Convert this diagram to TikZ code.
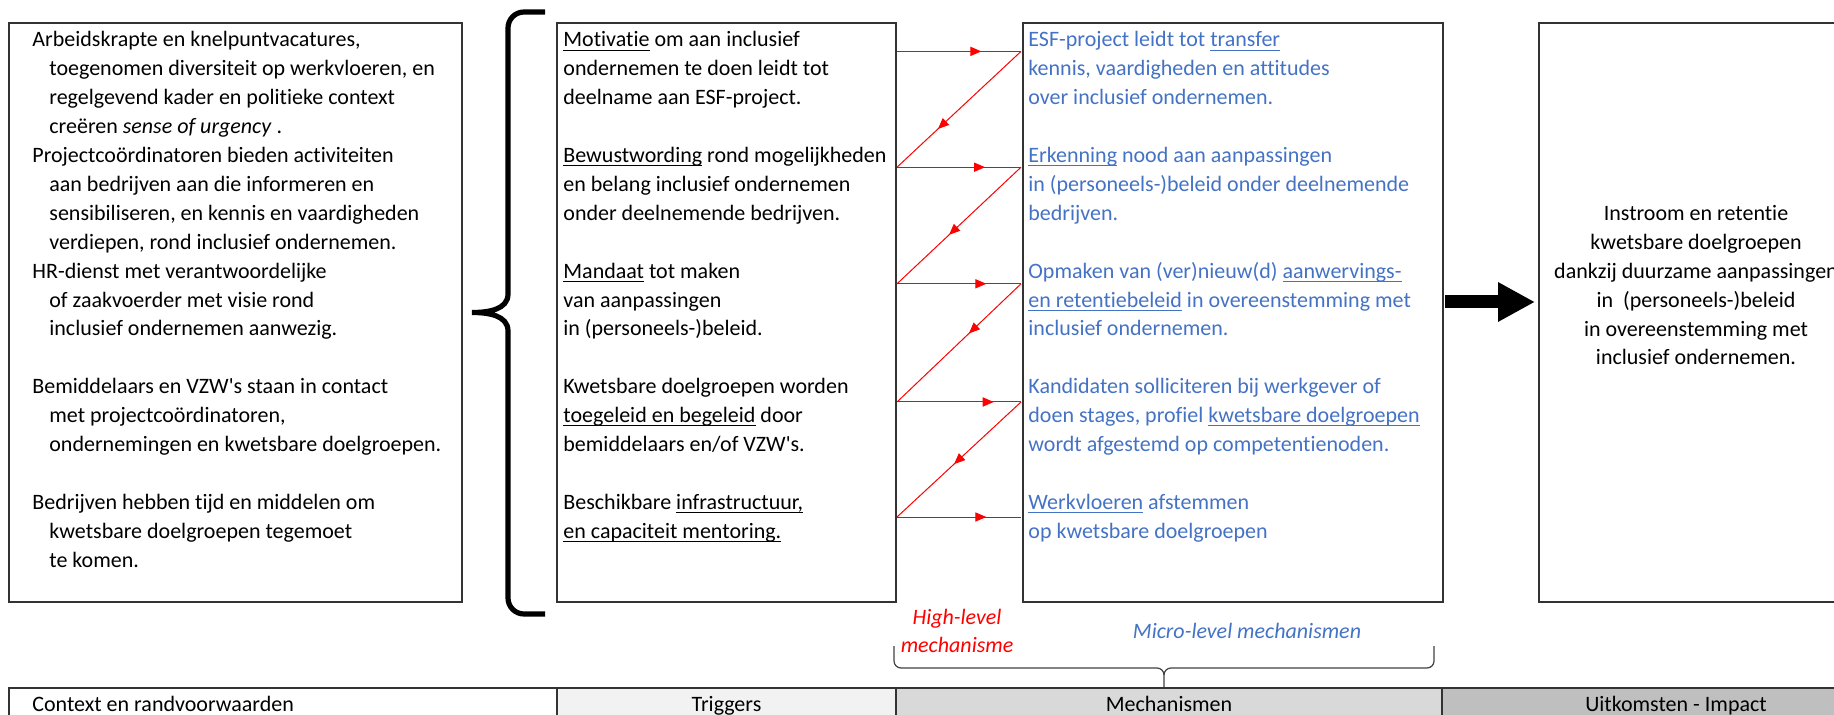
\documentclass[tikz,border=0pt]{standalone}
\usepackage{fontspec}
\setmainfont{Carlito}[Ligatures={TeX,NoCommon}]
\usetikzlibrary{arrows.meta, positioning, decorations.markings}

\definecolor{micro}{HTML}{4472C4}
\definecolor{cellA}{HTML}{F2F2F2}
\definecolor{cellB}{HTML}{D9D9D9}
\definecolor{cellC}{HTML}{BFBFBF}
\newcommand{\hind}{\hspace*{8.5pt}}
\newlength{\ulwd}
\newcommand{\ulin}[1]{\settowidth{\ulwd}{#1}\rlap{\rule[-1.8pt]{\ulwd}{0.5pt}}#1}

\begin{document}
\begin{tikzpicture}[x=0.5pt, y=-0.5pt,
    box/.style={draw=black!80, line width=0.75pt, anchor=north west, inner sep=0pt, outer sep=0pt, minimum height=289.5pt},
    txt/.style={anchor=north west, inner sep=0pt, align=left, font=\fontsize{11}{14.45}\selectfont},
    cell/.style={draw=black!80, line width=0.6pt, anchor=north west, inner sep=0pt, outer sep=0pt, minimum height=26pt},
    celltxt/.style={inner sep=0pt, anchor=base, font=\fontsize{11}{14.45}\selectfont},
    lbl/.style={inner sep=0pt, anchor=base, font=\fontsize{11}{14.45}\selectfont\itshape},
    redarrow/.style={red, line width=0.5pt, postaction={decorate},
        decoration={markings, mark=at position #1 with {\arrow{Triangle[length=5.5pt, width=4.6pt]}}}},
    bigarrow/.style={line width=6.5pt, -{Triangle[length=18.5pt, width=18.5pt]}},
    bigbrace/.style={line width=2.6pt},
    smallbrace/.style={draw=black!75, line width=0.6pt}
]
    \useasboundingbox (0,0) rectangle (1834,715);
    \clip (0,0) rectangle (1834,715);

    % de vier kaders
    \node[box, minimum width=226.5pt] (ctxbox) at (9,23) {};
    \node[box, minimum width=169.5pt] (trig) at (557,23) {};
    \node[box, minimum width=210pt] (mech) at (1023,23) {};
    \node[box, minimum width=157pt] (outc) at (1539,23) {};

    % context en randvoorwaarden
    \node[txt] (ctxtxt) at (32,26.3) {\strut Arbeidskrapte en knelpuntvacatures,\\
        \hind toegenomen diversiteit op werkvloeren, en\\
        \hind regelgevend kader en politieke context\\
        \hind creëren \textit{sense of urgency} .\\
        Projectcoördinatoren bieden activiteiten\\
        \hind aan bedrijven aan die informeren en\\
        \hind sensibiliseren, en kennis en vaardigheden\\
        \hind verdiepen, rond inclusief ondernemen.\\
        HR-dienst met verantwoordelijke\\
        \hind of zaakvoerder met visie rond\\
        \hind inclusief ondernemen aanwezig.\\[14.45pt]
        Bemiddelaars en VZW\textquotesingle s staan in contact\\
        \hind met projectcoördinatoren,\\
        \hind ondernemingen en kwetsbare doelgroepen.\\[14.45pt]
        Bedrijven hebben tijd en middelen om\\
        \hind kwetsbare doelgroepen tegemoet\\
        \hind te komen.};

    % accolade
    \draw[bigbrace] (545,12) -- (524,12) to[out=180,in=90] (508,28) -- (508,294)
        to[out=-90,in=0] (472,312.5) to[out=0,in=90] (508,331) -- (508,598)
        to[out=-90,in=180] (524,614) -- (545,614);

    % triggers
    \node[txt] (trigtxt) at (563,26.3) {\strut\ulin{Motivatie} om aan inclusief\\
        ondernemen te doen leidt tot\\
        deelname aan ESF-project.\\[14.45pt]
        \ulin{Bewustwording} rond mogelijkheden\\
        en belang inclusief ondernemen\\
        onder deelnemende bedrijven.\\[14.45pt]
        \ulin{Mandaat} tot maken\\
        van aanpassingen\\
        in (personeels-)beleid.\\[14.45pt]
        Kwetsbare doelgroepen worden\\
        \ulin{toegeleid en begeleid} door\\
        bemiddelaars en/of VZW\textquotesingle s.\\[14.45pt]
        Beschikbare \ulin{infrastructuur,}\\
        \ulin{en capaciteit mentoring.}};

    % micro-level mechanismen
    \node[txt, text=micro] (mechtxt) at (1028,26.3) {\strut ESF-project leidt tot \ulin{transfer}\\
        kennis, vaardigheden en attitudes\\
        over inclusief ondernemen.\\[14.45pt]
        \ulin{Erkenning} nood aan aanpassingen\\
        in (personeels-)beleid onder deelnemende\\
        bedrijven.\\[14.45pt]
        Opmaken van (ver)nieuw(d) \ulin{aanwervings-}\\
        \ulin{en retentiebeleid} in overeenstemming met\\
        inclusief ondernemen.\\[14.45pt]
        Kandidaten solliciteren bij werkgever of\\
        doen stages, profiel \ulin{kwetsbare doelgroepen}\\
        wordt afgestemd op competentienoden.\\[14.45pt]
        \ulin{Werkvloeren} afstemmen\\
        op kwetsbare doelgroepen};

    % uitkomsten
    \node[txt, anchor=north, align=center] (outtxt) at (1696,199.8) {\strut Instroom en retentie\\
        kwetsbare doelgroepen\\
        dankzij duurzame aanpassingen\\
        in \ (personeels-)beleid\\
        in overeenstemming met\\
        inclusief ondernemen.};

    % high-level mechanisme: rode pijlen
    \foreach \i/\y in {1/51.4, 2/167.2, 3/283.8, 4/402, 5/517} {
        \coordinate (t\i) at (897,\y);
        \coordinate (m\i) at (1021,\y);
    }
    \foreach \i/\p in {1/0.68, 2/0.71, 3/0.72, 4/0.78, 5/0.72}
        \draw[redarrow=\p] (t\i) -- (m\i);
    \foreach \i/\j/\p in {1/2/0.67, 2/3/0.58, 3/4/0.42, 4/5/0.54}
        \draw[redarrow=\p] (m\i) -- (t\j);

    % dikke pijl naar uitkomsten
    \coordinate (a0) at (1445,302);
    \coordinate (a1) at (1535,302);
    \draw[bigarrow] (a0) -- (a1);

    % labels onder de kaders
    \node[lbl, text=red] (hl1) at (957,624) {High-level};
    \node[lbl, text=red] (hl2) at (957,652) {mechanisme};
    \node[lbl, text=micro] (ml) at (1247,638) {Micro-level mechanismen};

    \draw[smallbrace] (894,646) -- (894,661) to[out=-90,in=180] (901,668) -- (1157,668)
        to[out=0,in=90] (1164,675) -- (1164,688);
    \draw[smallbrace] (1164,675) to[out=90,in=180] (1171,668) -- (1427,668)
        to[out=0,in=-90] (1434,661) -- (1434,646);

    % onderste rij
    \node[cell, fill=white, minimum width=274pt] (ctx) at (9,688) {};
    \node[cell, fill=cellA, minimum width=169.5pt, right=0pt of ctx] (trg) {};
    \node[cell, fill=cellB, minimum width=273pt, right=0pt of trg] (mch) {};
    \node[cell, fill=cellC, minimum width=240pt, right=0pt of mch] (uit) {};
    \node[celltxt, anchor=base west] (ctxlbl) at ([xshift=11.5pt, yshift=-11.5pt]ctx.north west) {Context en randvoorwaarden};
    \node[celltxt] (trglbl) at ([yshift=-11.5pt]trg.north) {Triggers};
    \node[celltxt] (mchlbl) at ([yshift=-11.5pt]mch.north) {Mechanismen};
    \node[celltxt] (uitlbl) at ([xshift=-3pt, yshift=-11.5pt]uit.north) {Uitkomsten - Impact};
\end{tikzpicture}
\end{document}
